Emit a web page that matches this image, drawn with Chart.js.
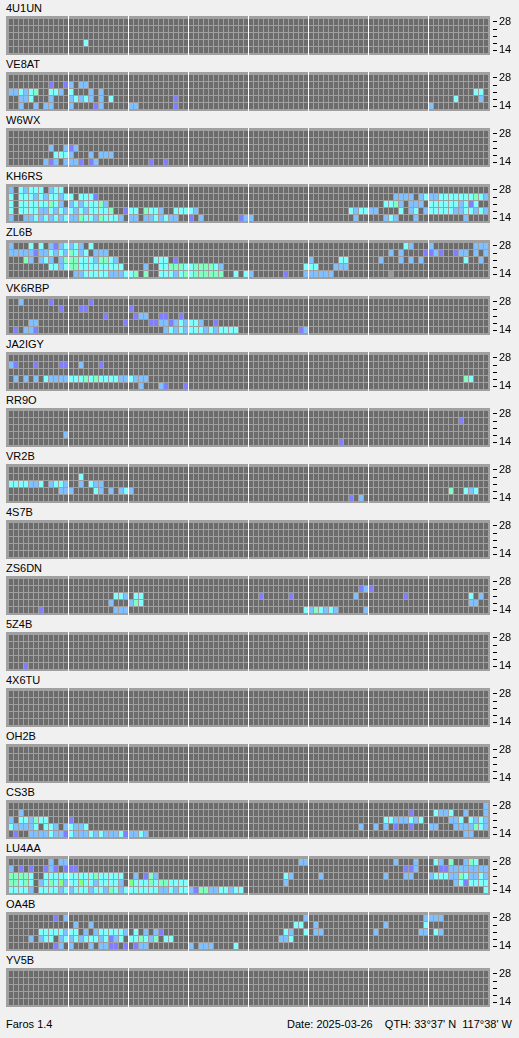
<!DOCTYPE html>
<html><head><meta charset="utf-8">
<script src="https://cdn.jsdelivr.net/npm/chart.js@4/dist/chart.umd.min.js"></script>
<style>
html,body{margin:0;padding:0;background:#f0f0f0;}
#wrap{position:relative;width:519px;height:1038px;overflow:hidden;font-family:"Liberation Sans",Arial,sans-serif;font-size:11px;color:#000;}
.lbl{position:absolute;left:6px;line-height:11px;white-space:pre;}
canvas{position:absolute;left:0;}
</style></head><body><div id="wrap"></div>
<script>
// Beacon names (top to bottom) and band rows (bottom to top, MHz)
const beacons = ['4U1UN','VE8AT','W6WX','KH6RS','ZL6B','VK6RBP','JA2IGY','RR9O','VR2B','4S7B','ZS6DN','5Z4B','4X6TU','OH2B','CS3B','LU4AA','OA4B','YV5B'];
const bands = [14, 18, 21, 24, 28];
const bandTickLabels = ['14', '', '', '', '28'];
// Slots: 96 quarter-hours per day, grouped in 3-hour blocks of 12.
// Each beacon: 5 rows, listed top (28 MHz) to bottom (14 MHz).
// Codes: . none, P weak, B fair, C good, G strong, L very strong, x other
const d4U1UN = ['', '', '', '............ ...C........', ''];
const dVE8AT = ['',
 '........P..P B.BB........',
 'BBCBCG..CCB. C...B.B..... ............ ............ ............ ............ ............ .........CC.',
 '..BBC...B... BCBCB.B.C... .........P.. ............ ............ ............ ............ .....C....B.',
 '..B..B.BB... B....PB..... BB.......P.. ............ ............ ............ ............ B...........'];
const dW6WX = ['', '',
 '........B..B PB..........',
 '.........CCC B...B.BBB...',
 '.......BPB.B BBP.PB...... ....P..P....'];
const dKH6RS = [
 'B.CBCCC.BCC.',
 'C.CCCBCBCCBC C.CCCP...... ............ ............ ............ ............ .....BBBB.BC BBCCCCCCCGCB',
 'C.CCCCCCGCB. BCBCCCGB.... ............ ............ ............ ............ ...CCGB.BBB. CCCCCCBCPC..',
 'C.CCCCBBCBCB CBCBCCCCG..P CC.GCCB..CCC CB.......... ............ ........CBCC BB....C.BC.B CCCCCBBCCBCB',
 'B..BBCBCBCBC BBGCCBGCCCB. BB.BBCBCBB.. P.B.......PB B........... .........B.. ...BCB...B.. .......B....'];
const dZL6B = [
 'B...C.C.BPBC BCB.C....... ............ ............ ............ ............ .......CB... B........BBB',
 'BBBBBPBBCBCB GCBC.BBB.... ............ ............ ............ ............ ....B.B....P PBP..PBB.B.B',
 '...GB.BCB.BG GGCCCBGGCB.. .....CCC.P.. ............ ............ B.....CC.... ..B...B.B.B. .......C..B.',
 '........CCBC GGCCCCCCCCC. ...B..CCGGGC CGGGGCB..... ...........C CC...BBB....',
 '............ .BBCCCCCBBBC CG.G..CCCBCG CGGGGGG..C.C B......P...B BBBBB....... ....x.......'];
const dVK6RBP = [
 '..B.....P... ....P.......',
 '..........P. ..PP........ P...........',
 '............ .......P.... .PBB..PP..P.',
 '....BB...... ...........P ....PPBBPBCB CCB..P......',
 '.P.BBP...... ............ .......BCBCB CCCBCBCCCC.. ..........PB'];
const dJA2IGY = ['',
 'BP...P....PP ..B...P.....',
 '',
 '.B.B.B.CBBBB CCCGCGCCCCBB CBBB........ ............ ............ ............ ............ .......GC...',
 '............ ............ ..B...BP...P'];
const dRR9O = ['',
 '............ ............ ............ ............ ............ ............ ............ ......P.....',
 '',
 '...........B',
 '............ ............ ............ ............ ............ ......P.....'];
const dVR2B = ['',
 '............ ..C.........',
 'CCCCBBC.BCCB ..B.CBB.....',
 '..........BB B....CB.B.BC B........... ............ ............ ............ ............ ....G..CBC..',
 '............ ............ ............ ............ ............ ........P.B.'];
const d4S7B = ['', '', '', '', ''];
const dZS6DN = ['',
 '............ ............ ............ ............ ............ ..........PB P...........',
 '............ .........CCB .CC......... ............ ..P.....P... .........B.. .......P.... ........C.B.',
 '............ ........B... BGC......... ............ ............ ............ ............ ........BB..',
 '......P..... .........BBB ............ ............ ...........C BGCBCB.....B'];
const d5Z4B = ['', '', '', '', '...P........'];
const d4X6TU = ['', '', '', '', ''];
const dOH2B = ['', '', '', '', ''];
const dCS3B = [
 '............ ............ ............ ............ ............ ............ ............ ...........B',
 '..B......... ............ ............ ............ ............ ............ ........P... .CBBC..B...B',
 'B.CCBGCC.... P........... ............ ............ ............ ............ ...CCBBBCBC. ....BBC.CBCB',
 'CBBBBC.CCB.B CBBC........ ............ ............ ............ ..........B. .B.B.P..P... BB...BBBBGCB',
 '.P..BBBBCBBP CBBBCBCBBBCP BBCB........ ............ ............ ............ ............ .......BB...'];
const dLU4AA = [
 '........B.BB ............ ............ ............ ..........BB ............ .....B...B.. .CB.G..BGC..',
 'B.P.P..PBP.P PP.......... ............ ............ ............ ............ .......PPB.. ..PPBBBBBBBB',
 'GGGGC..CCCCC CCCCCGCCCCC. .B.PGB...... ............ .......CB... ..B......... ...B...BB... BCCCBBGCBBCB',
 'GGCGC.BCGCLB CCLCCBCCCCB. LCCCGCGGCCCC ............ .......B.... ............ ............ .....BCPCCCC',
 'CCCCB.CCCCBC BCCCBCCBGCBC CCCCCCBBCBCC BPGGBBCCBCC. ............ ............ ............ ...........C'];
const dOA4B = [
 '.........P.B ............ ............ ............ ...........B ............ ...........B BBB.........',
 '............ .B..B....... ............ ............ .........CC. .B.......... ...B.......C',
 '......CCCCCB CC.B.BCCCCCB .C.B.BP..... ............ .......CB..C .BB......... .B........BB .CB.........',
 '....B.BCC.BC BCBCCCBCPBC. CCGCBG.CC... ............ ......BBC...',
 '.........PB. B...B.BBPP.P .PBB........ B.BBB....C..'];
const dYV5B = ['', '', '', '', ''];
const grids = [d4U1UN, dVE8AT, dW6WX, dKH6RS, dZL6B, dVK6RBP, dJA2IGY, dRR9O, dVR2B, d4S7B, dZS6DN, d5Z4B, d4X6TU, dOH2B, dCS3B, dLU4AA, dOA4B, dYV5B];
const footerLeft = 'Faros 1.4';
const footerRight = 'Date: 2025-03-26    QTH: 33°37\' N  117°38\' W';

const levelColors = {'.':'#6c6c6c','P':'#8080ff','B':'#80c0ff','C':'#80ffff','G':'#80ffc0','L':'#80ff80','x':'#9a9a9a'};
const SLOTS = 96, PANEL_H = 56;
const wrap = document.getElementById('wrap');
const norm = s => s.replace(/ /g, '').padEnd(SLOTS, '.').slice(0, SLOTS);

const boxBg = {id:'boxbg', beforeDraw(ch){ const a = ch.chartArea, ctx = ch.ctx; ctx.save(); ctx.fillStyle = '#a0a0a0'; ctx.fillRect(a.left, a.top, a.right - a.left, a.bottom - a.top); ctx.restore(); }};

beacons.forEach((name, i) => {
  const lbl = document.createElement('div');
  lbl.className = 'lbl'; lbl.textContent = name; lbl.style.top = (PANEL_H * i + 3) + 'px';
  wrap.appendChild(lbl);
  const rows = grids[i];
  const pts = [], cols = [];
  for (let r = 0; r < bands.length; r++) {
    const k = bands.length - 1 - r;
    const s = norm(rows[r]);
    for (let c = 0; c < SLOTS; c++) { pts.push({x: c, y: [k, k + 6/7]}); cols.push(levelColors[s[c]] || levelColors['.']); }
  }
  const cv = document.createElement('canvas');
  cv.width = 519; cv.height = PANEL_H; cv.style.top = (PANEL_H * i) + 'px';
  wrap.appendChild(cv);
  new Chart(cv, {
    type: 'bar',
    data: {datasets: [{data: pts, backgroundColor: cols, borderWidth: 0, inflateAmount: 0, barThickness: 4}]},
    options: {
      responsive: false, animation: false, devicePixelRatio: 1, events: [],
      layout: {padding: {left: 6, top: 16, right: 0, bottom: 1}},
      plugins: {legend: {display: false}, tooltip: {enabled: false}, title: {display: false}},
      scales: {
        x: {type: 'linear', min: -1, max: 95.8, offset: false, bounds: 'data',
            afterBuildTicks: s => { s.ticks = [1,2,3,4,5,6,7].map(h => ({value: h * 12 - 0.5})); },
            afterFit: s => { s.height = 0; s.paddingLeft = 0; s.paddingRight = 0; },
            ticks: {display: false}, border: {display: false},
            grid: {display: true, color: '#ffffff', lineWidth: 1, drawTicks: false, offset: false}},
        y: {type: 'linear', position: 'right', min: -2/7, max: 37/7, bounds: 'data',
            afterBuildTicks: s => { s.ticks = bands.map((b, k) => ({value: k + 3/7})); },
            afterFit: s => { s.width = 29; s.paddingTop = 0; s.paddingBottom = 0; },
            ticks: {padding: 2, color: '#000', autoSkip: false, font: {family: 'Liberation Sans', size: 11},
                    callback: (v, idx) => bandTickLabels[idx]},
            border: {display: false},
            grid: {drawOnChartArea: false, drawTicks: true, tickLength: 7, tickColor: '#000', tickWidth: 1, tickBorderDash: [0, 3, 4, 20]}}
      }
    },
    plugins: [boxBg]
  });
});
const fl = document.createElement('div'); fl.className = 'lbl'; fl.textContent = footerLeft; fl.style.top = '1019px'; wrap.appendChild(fl);
const fr = document.createElement('div'); fr.className = 'lbl'; fr.textContent = footerRight; fr.style.top = '1019px'; fr.style.left = 'auto'; fr.style.right = '7px'; wrap.appendChild(fr);
</script></body></html>
